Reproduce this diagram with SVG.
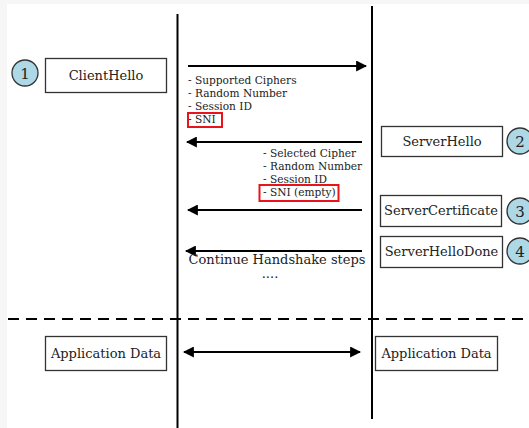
<svg xmlns="http://www.w3.org/2000/svg" width="529" height="428" viewBox="0 0 529 428">
  <defs>
    <marker id="head" viewBox="0 0 10 10" refX="9" refY="5" markerWidth="5.5" markerHeight="5.5" orient="auto-start-reverse" markerUnits="strokeWidth">
      <path d="M0,0 L10,5 L0,10 Z" fill="#000"/>
    </marker>
    <style>
      .lane { stroke: #000; stroke-width: 2; }
      .msg { stroke: #000; stroke-width: 2; fill: none; }
      .box { fill: #fff; stroke: #333; stroke-width: 1.3; }
      .step { fill: #add8e6; stroke: #333; stroke-width: 1.3; }
      .hl { fill: none; stroke: #e8141c; stroke-width: 2; }
      text { font-family: "DejaVu Serif", "Liberation Serif", serif; fill: #222; }
      .label { font-size: 13px; text-anchor: middle; }
      .small { font-size: 10.6px; }
      .num { font-size: 15px; text-anchor: middle; }
    </style>
  </defs>

  <rect x="0" y="0" width="529" height="428" fill="#fff"/>
  <rect x="0" y="0" width="529" height="4" fill="#f6f6f6"/>
  <rect x="0" y="0" width="7" height="428" fill="#f6f6f6"/>

  <!-- lifelines and phase separator -->
  <g id="lifelines">
    <line class="lane" x1="177.5" y1="14" x2="177.5" y2="428"/>
    <line class="lane" x1="372" y1="6" x2="372" y2="419"/>
    <line x1="8" y1="319" x2="529" y2="319" stroke="#000" stroke-width="2" stroke-dasharray="11,7"/>
  </g>

  <!-- messages -->
  <g id="connectors">
    <line class="msg" x1="188" y1="66" x2="366" y2="66" marker-end="url(#head)"/>
    <line class="msg" x1="362" y1="142" x2="187" y2="142" marker-end="url(#head)"/>
    <line class="msg" x1="362" y1="210" x2="188" y2="210" marker-end="url(#head)"/>
    <line class="msg" x1="362" y1="251" x2="186" y2="251" marker-end="url(#head)"/>
    <line class="msg" x1="184" y1="352" x2="360" y2="352" marker-start="url(#head)" marker-end="url(#head)"/>
  </g>

  <g id="client-hello">
    <circle class="step" cx="25" cy="73" r="13"/>
    <text class="num" x="25" y="78.5">1</text>
    <rect class="box" x="45.5" y="58.5" width="121" height="34"/>
    <text class="label" x="106" y="80">ClientHello</text>
  </g>

  <g id="client-hello-fields">
    <text class="small" x="188" y="84">- Supported Ciphers</text>
    <text class="small" x="188" y="97">- Random Number</text>
    <text class="small" x="188" y="110">- Session ID</text>
    <text class="small" x="188" y="123">- SNI</text>
    <rect class="hl" x="188" y="113" width="34" height="14"/>
  </g>

  <g id="server-hello">
    <rect class="box" x="381.5" y="126.5" width="121" height="30"/>
    <text class="label" x="442" y="146">ServerHello</text>
    <circle class="step" cx="520" cy="141" r="13"/>
    <text class="num" x="520" y="146.5">2</text>
  </g>

  <g id="server-hello-fields">
    <text class="small" x="263" y="157">- Selected Cipher</text>
    <text class="small" x="263" y="170">- Random Number</text>
    <text class="small" x="263" y="183">- Session ID</text>
    <text class="small" x="263" y="196">- SNI (empty)</text>
    <rect class="hl" x="259.5" y="185" width="79" height="16"/>
  </g>

  <g id="server-certificate">
    <rect class="box" x="380.5" y="195.5" width="121" height="31"/>
    <text class="label" x="441" y="215">ServerCertificate</text>
    <circle class="step" cx="520" cy="211" r="13"/>
    <text class="num" x="520" y="216.5">3</text>
  </g>

  <g id="server-hello-done">
    <rect class="box" x="380.5" y="236.5" width="122" height="31"/>
    <text class="label" x="441.5" y="256">ServerHelloDone</text>
    <circle class="step" cx="520" cy="251" r="13"/>
    <text class="num" x="520" y="256.5">4</text>
  </g>

  <g id="continue">
    <text class="label" x="277" y="264">Continue Handshake steps</text>
    <text class="label" x="270" y="278">....</text>
  </g>

  <g id="client-app-data">
    <rect class="box" x="45.5" y="336.5" width="121" height="34"/>
    <text class="label" x="106" y="358">Application Data</text>
  </g>

  <g id="server-app-data">
    <rect class="box" x="375.5" y="336.5" width="122" height="34"/>
    <text class="label" x="436.5" y="358">Application Data</text>
  </g>
</svg>
